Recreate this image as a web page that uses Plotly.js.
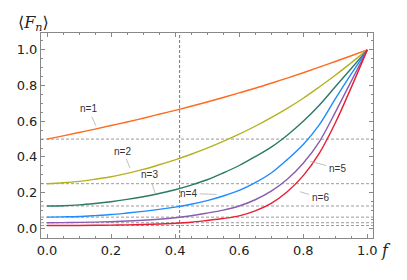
<!DOCTYPE html>
<html>
<head>
<meta charset="utf-8">
<script src="https://cdn.plot.ly/plotly-3.0.1.min.js"></script>
<style>html,body{margin:0;padding:0;background:#fff;}#chart{width:407px;height:280px;}</style>
</head>
<body>
<div id="chart"></div>
<script>
// values (f in steps of 0.05)
const fVals = [0, 0.05, 0.1, 0.15, 0.2, 0.25, 0.3, 0.35, 0.4, 0.45, 0.5, 0.55, 0.6, 0.65, 0.7, 0.75, 0.8, 0.85, 0.9, 0.95, 1.0];
const n1 = [0.5, 0.518, 0.537, 0.556, 0.576, 0.596, 0.617, 0.639, 0.661, 0.684, 0.708, 0.733, 0.759, 0.785, 0.813, 0.842, 0.872, 0.903, 0.935, 0.967, 1.0];
const n2 = [0.25, 0.255, 0.263, 0.275, 0.289, 0.308, 0.330, 0.356, 0.384, 0.415, 0.449, 0.487, 0.528, 0.572, 0.62, 0.672, 0.729, 0.792, 0.858, 0.928, 1.0];
const n3 = [0.125, 0.1265, 0.131, 0.139, 0.149, 0.162, 0.177, 0.195, 0.216, 0.242, 0.272, 0.31, 0.352, 0.402, 0.455, 0.522, 0.6, 0.69, 0.793, 0.896, 1.0];
const n4 = [0.0625, 0.064, 0.066, 0.071, 0.077, 0.0855, 0.095, 0.106, 0.119, 0.135, 0.155, 0.181, 0.212, 0.256, 0.31, 0.385, 0.47, 0.58, 0.725, 0.865, 1.0];
const n5 = [0.03125, 0.032, 0.033, 0.0348, 0.037, 0.0405, 0.045, 0.051, 0.059, 0.07, 0.085, 0.102, 0.125, 0.16, 0.208, 0.275, 0.365, 0.485, 0.65, 0.825, 1.0];
const n6 = [0.015625, 0.0158, 0.016, 0.0168, 0.018, 0.0193, 0.021, 0.024, 0.028, 0.034, 0.044, 0.055, 0.07, 0.098, 0.14, 0.205, 0.295, 0.42, 0.59, 0.79, 1.0];
const seriesNames = ['n=1', 'n=2', 'n=3', 'n=4', 'n=5', 'n=6'];
const seriesColors = ['#ff6a1f', '#b4b21e', '#2a7a66', '#1e8cff', '#8a5bb0', '#e81e34'];
const levels = [0.5, 0.25, 0.125, 0.0625, 0.03125, 0.015625];
const fStar = 0.414;
// label anchor points (f, value) and text offsets
const labelF = [0.153, 0.259, 0.3375, 0.53, 0.822, 0.79];
const labelV = [0.575, 0.338, 0.198, 0.19, 0.375, 0.205];
const labelAx = [-8, -7, -6, -28, 27, 20];
const labelAy = [-17, -17, -18, -1, 7, 6];

const allSeries = [n1, n2, n3, n4, n5, n6];
const traces = allSeries.map((s, i) => ({
  x: fVals, y: s, type: 'scatter', mode: 'lines', name: seriesNames[i],
  line: {color: seriesColors[i], width: 1.4, shape: 'spline', smoothing: 1},
  hoverinfo: 'skip'
}));

const shapes = levels.map(v => ({
  type: 'line', xref: 'paper', yref: 'y', x0: 0, x1: 1, y0: v, y1: v,
  line: {color: '#9a9a9a', width: 1, dash: '3px,2px'}, layer: 'below'
}));
shapes.push({type: 'line', xref: 'x', yref: 'paper', x0: fStar, x1: fStar, y0: 0, y1: 1,
  line: {color: '#777', width: 1, dash: '3px,2px'}, layer: 'below'});

const annotations = seriesNames.map((t, i) => ({
  x: labelF[i], y: labelV[i], xref: 'x', yref: 'y', text: t,
  showarrow: true, arrowhead: 0, arrowwidth: 0.8, arrowcolor: '#b0b0b0',
  ax: labelAx[i], ay: labelAy[i], standoff: 0, startstandoff: 1,
  font: {family: 'Liberation Sans, Arial, sans-serif', size: 10, color: '#333'}
}));
annotations.push({xref: 'paper', yref: 'paper', x: 1.04, y: -0.062, xanchor: 'center', yanchor: 'middle',
  text: '<i>f</i>', showarrow: false, font: {family: 'DejaVu Serif, serif', size: 16, color: '#222'}});
annotations.push({xref: 'paper', yref: 'paper', x: -0.022, y: 1.045, xanchor: 'center', yanchor: 'middle',
  text: '\u27E8<i>F</i><sub><i>n</i></sub>\u27E9', showarrow: false,
  font: {family: 'DejaVu Serif, serif', size: 16, color: '#222'}});

const axisCommon = {
  showline: true, linecolor: '#888', linewidth: 1, mirror: 'allticks',
  ticks: 'inside', ticklen: 4, tickcolor: '#888', tickwidth: 1,
  showgrid: false, zeroline: false, tick0: 0, dtick: 0.2, tickformat: '.1f',
  minor: {ticks: 'inside', ticklen: 2, tickcolor: '#888', dtick: 0.05, tick0: 0, showgrid: false},
  tickfont: {family: 'DejaVu Sans, sans-serif', size: 13, color: '#222'}
};

const layout = {
  width: 407, height: 280,
  margin: {l: 41, r: 34.3, t: 33.3, b: 41.7},
  paper_bgcolor: '#fff', plot_bgcolor: '#fff',
  showlegend: false,
  xaxis: Object.assign({}, axisCommon, {range: [-0.01875, 1.0178]}),
  yaxis: Object.assign({}, axisCommon, {range: [-0.0544, 1.0947]}),
  shapes: shapes, annotations: annotations
};

Plotly.newPlot('chart', traces, layout, {displayModeBar: false, staticPlot: true});
</script>
</body>
</html>
